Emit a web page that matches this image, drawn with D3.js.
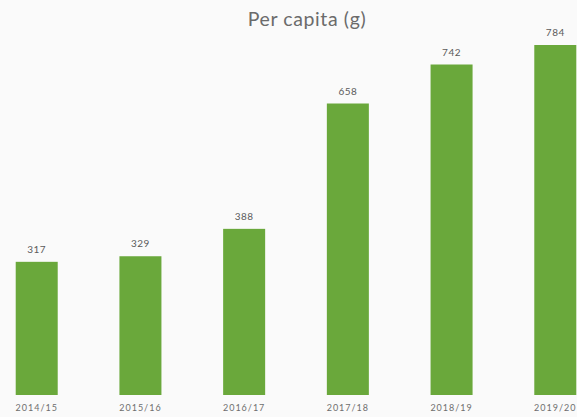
<!DOCTYPE html>
<html>
<head>
<meta charset="utf-8">
<script src="https://cdn.jsdelivr.net/npm/d3@7"></script>
<style>
  html, body { margin: 0; padding: 0; background: #fafafa; }
  svg { display: block; }
</style>
</head>
<body>
<div id="chart"></div>
<script>
// values
const years = ["2014/15", "2015/16", "2016/17", "2017/18", "2018/19", "2019/20"]
const perCapita = [317, 329, 388, 658, 742, 784]
const title = "Per capita (g)"

const width = 577
const height = 417
const baseline = 395
const barColor = "#6aa83b"

const svg = d3.select("#chart")
  .append("svg")
  .attr("width", width)
  .attr("height", height)

svg.append("rect")
  .attr("width", width)
  .attr("height", height)
  .attr("fill", "#fafafa")

const xScale = d3.scaleBand()
  .domain(years)
  .range([-46, 638])
  .padding(0.595)

// zero sits a little below the visible foot of the bars
const yScale = d3.scaleLinear()
  .domain([0, 784])
  .range([409, 45])

svg.append("text")
  .attr("x", 307)
  .attr("y", 26)
  .attr("text-anchor", "middle")
  .attr("font-family", "Lato, sans-serif")
  .attr("font-size", 19.5)
  .attr("letter-spacing", 0.6)
  .attr("fill", "#6b6b6b")
  .text(title)

svg.selectAll(".bar")
  .data(perCapita)
  .enter()
  .append("rect")
  .attr("class", "bar")
  .attr("x", (d, i) => xScale(years[i]))
  .attr("y", d => yScale(d))
  .attr("width", xScale.bandwidth())
  .attr("height", d => baseline - yScale(d))
  .attr("fill", barColor)

svg.selectAll(".value")
  .data(perCapita)
  .enter()
  .append("text")
  .attr("class", "value")
  .attr("x", (d, i) => xScale(years[i]) + xScale.bandwidth() / 2)
  .attr("y", d => yScale(d) - 9)
  .attr("text-anchor", "middle")
  .attr("font-family", "Lato, sans-serif")
  .attr("font-size", 10)
  .attr("letter-spacing", 0.5)
  .attr("fill", "#5a5a5a")
  .text(d => d)

const xAxis = svg.append("g")
  .attr("transform", `translate(0, ${baseline})`)
  .call(d3.axisBottom(xScale).tickSize(0).tickPadding(10))

xAxis.select(".domain").remove()
xAxis.selectAll("text")
  .attr("font-family", "Lato, sans-serif")
  .attr("font-size", 9)
  .attr("letter-spacing", 1)
  .attr("fill", "#6e6e6e")
</script>
</body>
</html>
